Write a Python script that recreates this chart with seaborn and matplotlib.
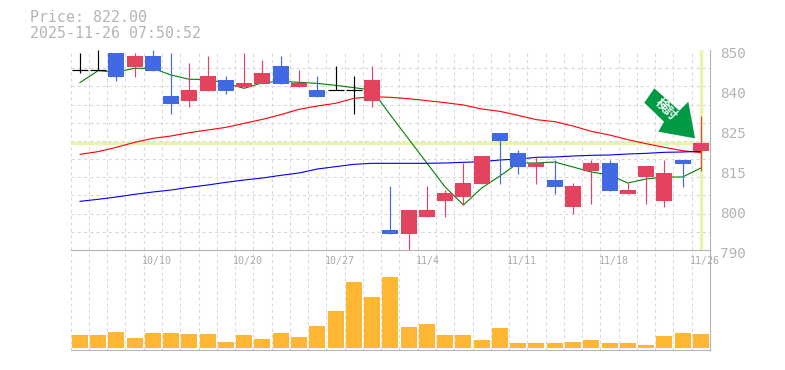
import numpy as np
import matplotlib
matplotlib.use('Agg')
import matplotlib.pyplot as plt
import matplotlib.transforms as mtrans
from matplotlib.patches import Polygon
import seaborn as sns

# price data
opens = [843.9, 843.9, 849.1, 844.9, 848.2, 836.2, 834.7, 837.7, 841.0, 838.9, 839.8, 845.2,
         838.9, 838.0, 837.9, 837.9, 834.7, 796.0, 794.8, 799.9, 804.7, 805.9, 809.8, 825.1,
         819.1, 814.9, 811.0, 802.9, 813.7, 816.1, 806.8, 811.9, 804.7, 817.0, 819.7]
closes = [843.9, 843.9, 842.0, 848.2, 843.7, 833.8, 838.0, 842.2, 837.7, 840.1, 843.1, 839.8,
          840.1, 835.9, 837.9, 837.9, 841.0, 794.8, 802.0, 802.0, 807.1, 810.1, 818.2, 822.7,
          814.9, 816.1, 808.9, 809.2, 816.1, 807.7, 808.0, 815.2, 813.1, 815.8, 822.0]
highs = [849.0, 850.0, 849.1, 849.0, 850.0, 849.1, 846.1, 848.2, 842.2, 849.1, 847.0, 848.2,
         844.0, 842.2, 845.2, 842.2, 845.2, 809.2, 802.0, 809.2, 808.0, 816.1, 818.2, 825.1,
         820.0, 818.2, 817.0, 810.1, 817.0, 817.0, 810.1, 815.2, 817.0, 817.0, 830.2]
lows = [843.0, 843.9, 840.8, 842.0, 843.7, 830.9, 832.9, 837.7, 836.8, 838.9, 839.8, 839.8,
        838.9, 835.9, 837.9, 830.9, 832.9, 794.8, 790.0, 799.9, 799.9, 803.5, 809.8, 809.8,
        812.8, 809.8, 806.8, 800.8, 803.8, 807.7, 806.8, 803.8, 802.9, 808.9, 813.7]
ma_short = [840.2, 843.8, 843.4, 844.5, 844.5, 842.5, 841.2, 841.2, 840.0, 838.5, 840.2, 840.6,
            840.3, 840.0, 839.4, 838.7, 838.0, 830.5, 823.3, 816.1, 808.9, 803.5, 808.6, 812.2,
            816.1, 816.1, 816.4, 814.9, 813.4, 812.5, 810.1, 811.3, 811.9, 811.9, 814.6]
ma_mid = [818.7, 819.5, 820.8, 822.3, 823.5, 824.2, 825.2, 826.0, 826.8, 828.0, 829.2, 830.6,
          832.2, 833.2, 834.0, 835.5, 836.0, 835.8, 835.4, 834.8, 834.2, 833.5, 832.3, 831.6,
          830.4, 829.1, 828.5, 827.2, 825.6, 824.5, 823.1, 821.9, 820.8, 819.8, 819.2]
ma_long = [804.6, 805.2, 805.9, 806.7, 807.4, 808.0, 808.8, 809.5, 810.3, 811.0, 811.6, 812.4,
           813.1, 814.3, 815.0, 815.7, 816.0, 816.0, 816.0, 816.0, 816.1, 816.3, 816.5, 817.0,
           817.3, 817.8, 817.9, 818.2, 818.4, 818.5, 818.8, 819.0, 819.3, 819.4, 819.6]
volume = [13, 13, 16, 10, 15, 15, 14, 14, 6, 13, 9, 15, 11, 22, 37, 66, 51, 71,
          21, 24, 13, 13, 8, 20, 5, 5, 5, 6, 8, 5, 5, 3, 12, 15, 14]
last_price = 822
price_ticks = [850, 838, 826, 814, 802, 790]
price_labels = ['850', '840', '825', '815', '800', '790']
date_labels = ['10/10', '10/20', '10/27', '11/4', '11/11', '11/18', '11/26']
date_slots = [4, 9, 14, 19, 24, 29, 34]

RED = '#E4435F'
BLUE = '#4169E1'
GREY = '#B4B4B4'
GRID = '#D8D8D8'
LIME = '#E6F5AA'
MONO = 'DejaVu Sans Mono'
W, H = 785, 370

sns.set_theme(style='white')
plt.rcParams['font.family'] = ['DejaVu Sans Mono', 'DejaVu Sans']

fig = plt.figure(figsize=(W / 100, H / 100), dpi=100)
left = 70.7 / W
width = (710 - 70.7) / W
ax = fig.add_axes([left, 1 - 250 / H, width, 200 / H])
ax_vol = fig.add_axes([left, 1 - 350 / H, width, 100 / H])
ax_vol.patch.set_alpha(0)

idx = np.arange(len(opens))
slots = np.arange(len(opens) + 1) - 0.5
dash = (0, (3, 3))

# moving averages
for series, col in [(ma_short, '#008000'), (ma_mid, '#FF0000'), (ma_long, '#0000FF')]:
    sns.lineplot(x=idx, y=series, ax=ax, color=col, linewidth=0.8, zorder=3, legend=False)

# last price markers
ax.axhline(last_price, color=LIME, linewidth=2.4, zorder=2)
ax.axvline(idx[-1], color=LIME, linewidth=2.4, ymin=0.005, zorder=2)

# candles
for i in idx:
    o, c = opens[i], closes[i]
    if o == c:
        col = 'black'
    elif c > o:
        col = RED
    else:
        col = BLUE
    ax.vlines(i, lows[i], highs[i], color=col, linewidth=0.85, zorder=4).set_snap(True)
    if o == c:
        ax.hlines(o, i - 0.44, i + 0.44, color=col, linewidth=0.85, zorder=4).set_snap(True)
    else:
        ax.bar(i, abs(c - o), bottom=min(o, c), width=0.876, color=col, linewidth=0, zorder=5)

ax.set_xlim(-0.5, len(opens) - 0.5)
ax.set_ylim(790, 850)
ax.set_xticks(slots)
ax.set_yticks(price_ticks)
ax.set_yticklabels(price_labels, family=MONO, fontsize=10.4, color=GREY)
ax.set_yticks(np.linspace(790, 850, 12), minor=True)
ax.yaxis.tick_right()
ax.tick_params(axis='y', which='both', length=0, pad=7)
ax.tick_params(axis='x', length=0, labelbottom=False)
ax.grid(True, axis='x', color=GRID, linewidth=0.75, linestyle=dash)
ax.grid(True, axis='y', which='minor', color=GRID, linewidth=0.75, linestyle=dash)
ax.grid(False, axis='y', which='major')
ax.set_axisbelow(True)
ax.set_xlabel('')
ax.set_ylabel('')
shift = mtrans.ScaledTranslation(0, -3 / 100, fig.dpi_scale_trans)
for lab in ax.get_yticklabels():
    lab.set_transform(lab.get_transform() + shift)

# volume
sns.barplot(x=idx, y=volume, ax=ax_vol, color='#FFB733', saturation=1, width=0.876, linewidth=0, zorder=3)
ax_vol.set_xlim(-0.5, len(opens) - 0.5)
ax_vol.set_ylim(-2, 98)
ax_vol.set_xticks(slots)
ax_vol.set_yticks([])
ax_vol.tick_params(axis='x', length=0, labelbottom=False)
ax_vol.grid(True, axis='x', color=GRID, linewidth=0.75, linestyle=dash)
ax_vol.set_axisbelow(True)
ax_vol.set_xlabel('')
ax_vol.set_ylabel('')

for a in (ax, ax_vol):
    for side in a.spines:
        a.spines[side].set_visible(False)
    for side in ('right', 'bottom'):
        a.spines[side].set_visible(True)
        a.spines[side].set_color(GREY)
        a.spines[side].set_linewidth(0.8)

for lab, s in zip(date_labels, date_slots):
    ax_vol.text(s - 0.6, 87, lab, family=MONO, fontsize=7.2, color='#ABABAB', ha='left', va='center', zorder=6)

# header text
fig.text(30 / W, 1 - 18 / H, 'Price: 822.00', family=MONO, fontsize=10.7, color=GREY, va='center')
fig.text(30 / W, 1 - 33 / H, '2025-11-26 07:50:52', family=MONO, fontsize=10.7, color=GREY, va='center')

# signal arrow, placed in figure pixels
arrow_px = [(654.3, 88.3), (644.3, 102.7), (664, 121.7), (658.3, 131.7), (695, 138.3), (688.3, 101.7), (679.3, 110.7)]
arrow_xy = [(x / W, 1 - y / H) for x, y in arrow_px]
fig.add_artist(Polygon(arrow_xy, closed=True, transform=fig.transFigure, facecolor='#009944', edgecolor='none', zorder=7))
fig.text(666 / W, 1 - 110 / H, '検討', family=['Noto Sans CJK JP', 'DejaVu Sans'], fontsize=9, fontweight='bold',
         color='white', rotation=-45, ha='center', va='center', zorder=8)

fig.savefig('out.png', dpi=100, facecolor='white')
